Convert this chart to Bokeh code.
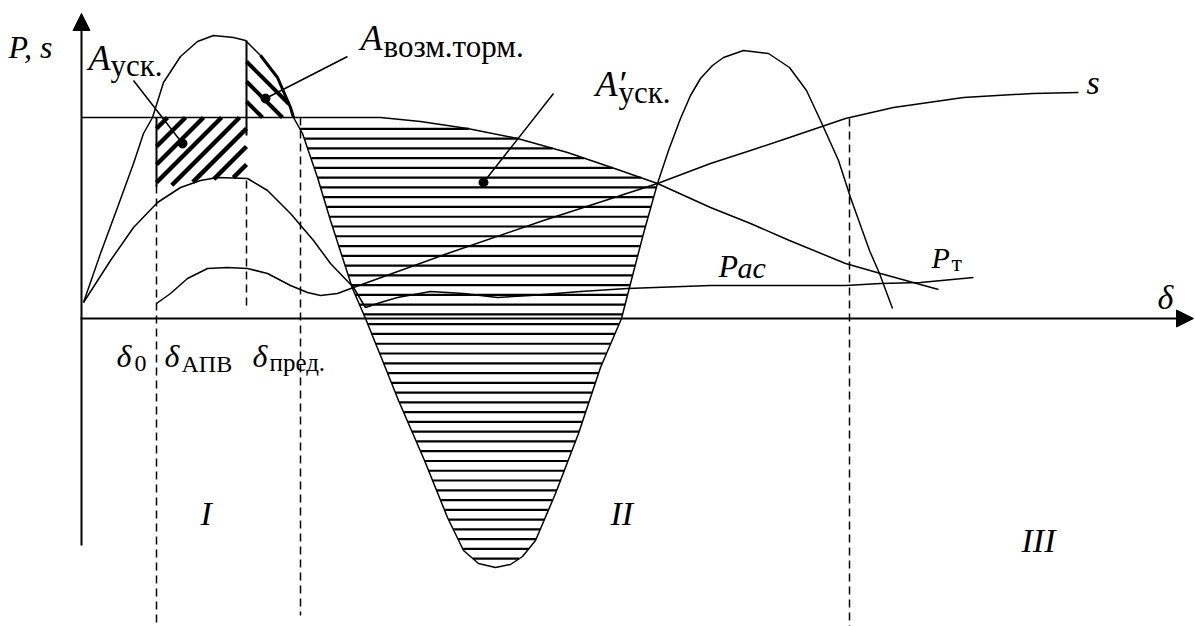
import numpy as np
from bokeh.plotting import figure
from bokeh.models import Range1d, Arrow, NormalHead
from bokeh.core.properties import value
from bokeh.embed import file_html
from bokeh.resources import INLINE

# ---- curves (delta, P) ----
# electrical power during the swing
swing_d = [2, 19, 36, 52, 62, 71, 82, 99, 116, 132, 152, 164, 179, 196, 209, 212, 221, 236, 249,
           271, 284, 301, 317, 343, 366, 382, 397, 414, 429, 441, 454, 474, 497, 519, 540, 549, 562,
           576, 587, 599, 609, 619, 631, 642, 662, 687, 708, 725, 739, 757, 769, 788, 798, 811]
swing_p = [16, 65, 111, 155, 185, 201, 236, 262, 277, 283, 281, 278, 263, 241, 211, 201, 185, 141, 98,
           30, 0, -42, -82, -142, -199, -232, -245, -249, -246, -238, -222, -175, -115, -49, 0, 35, 85,
           135, 168, 200, 223, 240, 253, 261, 268, 265, 251, 228, 198, 158, 121, 68, 45, 10]

# characteristic with the line switched off, then asynchronous power
post_d = [2, 29, 52, 76, 99, 119, 136, 166, 186, 209, 232, 249, 272, 284, 299, 316, 349, 382, 416,
          449, 499, 546, 629, 673, 764, 799, 839, 892]
post_p = [16, 58, 91, 116, 131, 138, 141, 140, 128, 105, 78, 55, 31, 11, 16, 21, 27, 25, 21,
          23, 27, 30, 33, 33, 33, 35, 36, 41]

# characteristic after reclosing
apv_d = [75, 89, 106, 126, 146, 166, 186, 209, 226, 239, 256, 272]
apv_p = [15, 25, 40, 50, 51, 50, 45, 33, 26, 23, 25, 31]

# slip
slip_d = [272, 366, 462, 576, 629, 669, 708, 764, 812, 882, 951, 997]
slip_p = [31, 65, 98, 135, 155, 168, 181, 200, 211, 221, 225, 226]

# turbine power
turb_d = [0, 299, 339, 386, 436, 486, 536, 576, 629, 669, 708, 764, 799, 857]
turb_p = [201, 201, 197, 190, 180, 166, 149, 135, 111, 95, 78, 55, 45, 29]

# marked angles
d_apv, d_switch, d_lim, d_end = 75, 165, 219, 768

# accelerating area A_уск (outline)
acc_d = [75, 165, 165, 150, 120, 99, 75]
acc_p = [201, 201, 140, 141, 138, 134, 132]

# possible braking area (outline)
brk_d = [165, 179, 196, 209, 212, 165]
brk_p = [278, 263, 241, 211, 201, 201]

FONT = value("Liberation Serif")

p = figure(width=1195, height=626, x_range=Range1d(-81, 1114), y_range=Range1d(-308, 318),
           output_backend="svg", toolbar_location=None, x_axis_location=None,
           y_axis_location=None, min_border=0)
p.grid.visible = False
p.outline_line_color = None
p.background_fill_color = "white"


def scan(poly_d, poly_p, a, b, levels):
    """Cut the lines a*d + b*P = c (c in levels) by a closed outline."""
    d = np.asarray(poly_d, float)
    q = np.asarray(poly_p, float)
    d2, q2 = np.roll(d, -1), np.roll(q, -1)
    f1, f2 = a * d + b * q, a * d2 + b * q2
    xs, ys = [], []
    for c in levels:
        m = ((f1 <= c) & (f2 > c)) | ((f2 <= c) & (f1 > c))
        t = (c - f1[m]) / (f2[m] - f1[m])
        cd = d[m] + t * (d2[m] - d[m])
        cq = q[m] + t * (q2[m] - q[m])
        o = np.argsort(cd)
        cd, cq = cd[o], cq[o]
        for i in range(0, len(cd) - 1, 2):
            xs.append([cd[i], cd[i + 1]])
            ys.append([cq[i], cq[i + 1]])
    return xs, ys


# horizontally hatched region: between the swing curve and the turbine power
sd, sp = np.array(swing_d), np.array(swing_p)
td, tp = np.array(turb_d), np.array(turb_p)
ms = (sd >= 212) & (sd <= 576)
mt = (td >= 299) & (td <= 576)
reg_d = np.concatenate([sd[ms], td[mt][::-1]])
reg_p = np.concatenate([sp[ms], tp[mt][::-1]])
levels = 189.7 - 9.77 * np.arange(0, 46)
hx, hy = scan(reg_d, reg_p, 0.0, 1.0, levels)
p.multi_line(hx, hy, line_color="black", line_width=2.2)

# diagonal hatching of the two small areas
ax_, ay_ = scan(acc_d, acc_p, -1.0, 1.0, 133 - 18 * np.arange(0, 9))
p.multi_line(ax_, ay_, line_color="black", line_width=4.5)
bx_, by_ = scan(brk_d, brk_p, 1.0, 1.0, [422, 402, 382])
p.multi_line(bx_, by_, line_color="black", line_width=4)

# curves
for xs, ys in [(swing_d, swing_p), (post_d, post_p), (apv_d, apv_p), (slip_d, slip_p), (turb_d, turb_p)]:
    p.line(xs, ys, line_color="black", line_width=1.5)

# thicker rim of the braking area along the swing curve
rim = (sd >= 165) & (sd <= 212)
p.line(sd[rim], sp[rim], line_color="black", line_width=3)

# edges of the hatched areas
p.segment(x0=[d_apv, d_switch], y0=[201, 278], x1=[d_apv, d_switch], y1=[132, 183],
          line_color="black", line_width=2)

# dashed angle markers
p.segment(x0=[d_apv, d_switch, d_lim, d_end], y0=[133, 138, 201, 200],
          x1=[d_apv, d_switch, d_lim, d_end], y1=[-304, 11, -297, -308],
          line_color="black", line_width=1.5, line_dash="8 5")

# leader lines with dots
lead_x0, lead_y0 = [52, 266, 472], [238, 262, 225]
lead_x1, lead_y1 = [101, 184, 402], [175, 220, 136]
p.segment(x0=lead_x0, y0=lead_y0, x1=lead_x1, y1=lead_y1, line_color="black", line_width=1.5)
p.scatter(lead_x1, lead_y1, size=9, color="black")

# axes
p.add_layout(Arrow(end=NormalHead(size=17, fill_color="black", line_color="black"),
                   x_start=0, y_start=-227, x_end=0, y_end=305, line_width=2))
p.add_layout(Arrow(end=NormalHead(size=17, fill_color="black", line_color="black"),
                   x_start=-1, y_start=0, x_end=1112, y_end=0, line_width=2))


def label(x, y, s, size, style="normal"):
    p.text(x=[x], y=[y], text=[s], text_font=FONT, text_font_size=f"{size}px",
           text_font_style=style, text_align="left", text_baseline="alphabetic",
           text_color="black")


label(-73, 272, "P, s", 32, "italic")
label(7, 261, "A", 36, "italic")
label(29, 253, "уск.", 31)
label(279, 281, "A", 36, "italic")
label(302, 272, "возм.торм.", 31)
label(514, 235, "A′", 36, "italic")
label(537, 226, "уск.", 31)
label(35, -37, "δ", 32, "italic")
label(53, -45, "0", 24)
label(83, -37, "δ", 32, "italic")
label(100, -45, "АПВ", 24)
label(171, -37, "δ", 32, "italic")
label(188, -44, "пред.", 25)
label(119, -195, "I", 34, "italic")
label(529, -195, "II", 34, "italic")
label(940, -222, "III", 34, "italic")
label(1005, 236, "s", 34, "italic")
label(1076, 21, "δ", 34, "italic")
label(637, 53, "P", 32, "italic")
label(656, 51, "ас", 30, "italic")
label(850, 61, "P", 30, "italic")
label(870, 56, "т", 24)

open("out.html", "w").write(file_html(p, INLINE))
